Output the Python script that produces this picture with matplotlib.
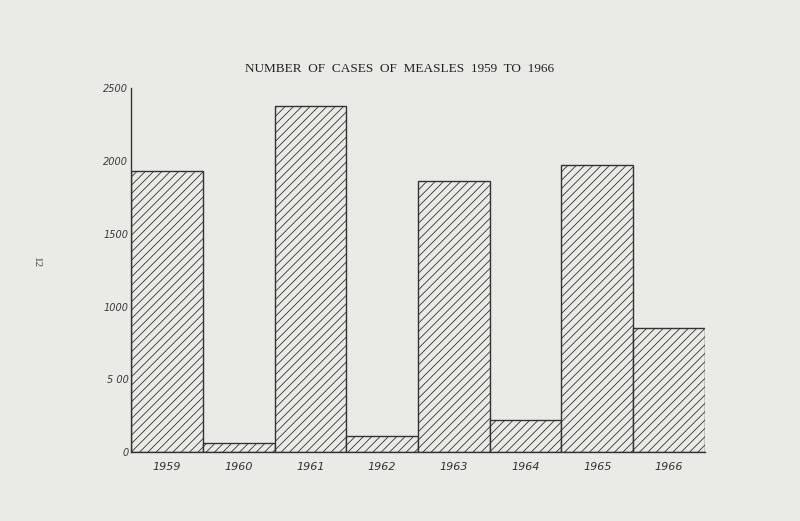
import matplotlib
matplotlib.use("Agg")
import matplotlib.pyplot as plt

years = ["1959", "1960", "1961", "1962", "1963", "1964", "1965", "1966"]
cases = [1930, 60, 2380, 110, 1860, 220, 1970, 850]
yticks = [0, 500, 1000, 1500, 2000, 2500]
ytick_labels = ["0", "5 00", "1000", "1500", "2000", "2500"]
title = "NUMBER  OF  CASES  OF  MEASLES  1959  TO  1966"

bg = "#eaeae6"
plt.rcParams["hatch.linewidth"] = 0.6
plt.rcParams["hatch.color"] = "#3a3a3a"

fig = plt.figure(figsize=(8, 5.21), dpi=100, facecolor=bg)
ax = fig.add_axes([0.164, 0.132, 0.717, 0.699], facecolor=bg)

x = list(range(len(years)))
ax.bar(x, cases, width=1.0, align="edge", facecolor=bg, edgecolor="#333333",
       linewidth=1.0, hatch="////")

ax.set_xlim(0, len(years))
ax.set_ylim(0, 2500)
ax.set_yticks(yticks)
ax.set_yticklabels(ytick_labels, fontsize=7, style="italic", family="DejaVu Sans", color="#3a3a3a")
ax.set_xticks([i + 0.5 for i in x])
ax.set_xticklabels(years, fontsize=8, style="italic", family="DejaVu Sans", color="#333333")
ax.tick_params(axis="y", length=0, pad=2)
ax.tick_params(axis="x", length=0, pad=7)

for s in ["top", "right"]:
    ax.spines[s].set_visible(False)
ax.spines["left"].set_color("#333333")
ax.spines["bottom"].set_color("#333333")
ax.spines["left"].set_linewidth(1.0)
ax.spines["bottom"].set_linewidth(1.0)

fig.text(0.5, 0.856, title, ha="center", va="bottom", fontsize=9.5,
         family="Liberation Serif", color="#222222")
fig.text(0.046, 0.497, "12", ha="center", va="center", fontsize=8,
         family="Liberation Serif", rotation=-90, color="#444444")

fig.savefig("out.png", dpi=100, facecolor=bg)
